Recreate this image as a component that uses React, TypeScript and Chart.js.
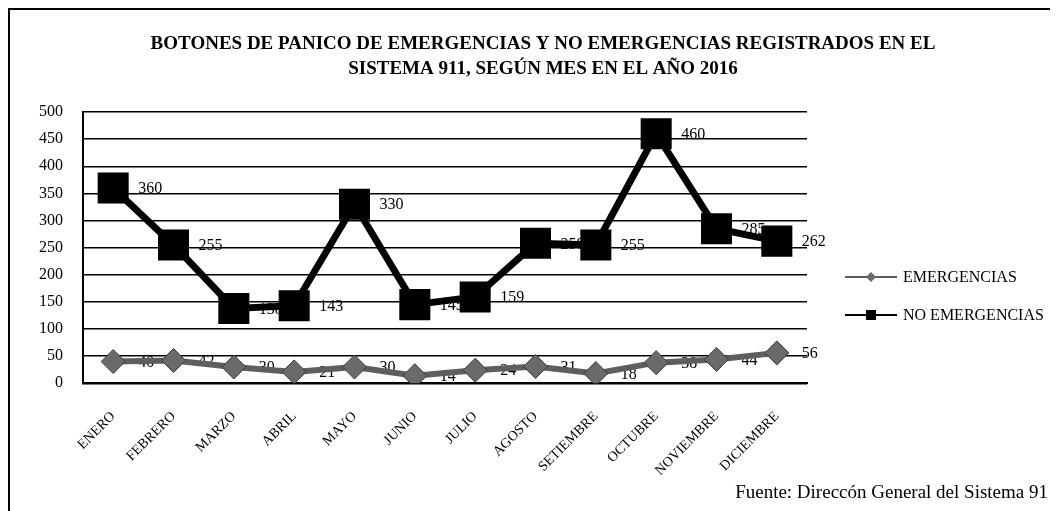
import React, { useEffect, useRef } from "react";
import { Chart, registerables } from "chart.js";

Chart.register(...registerables);

const months = ["ENERO", "FEBRERO", "MARZO", "ABRIL", "MAYO", "JUNIO", "JULIO", "AGOSTO", "SETIEMBRE", "OCTUBRE", "NOVIEMBRE", "DICIEMBRE"];
const emergencias = [40, 42, 30, 21, 30, 14, 24, 31, 18, 38, 44, 56];
const noEmergencias = [360, 255, 138, 143, 330, 145, 159, 258, 255, 460, 285, 262];
const titleLines = [
  "BOTONES DE PANICO DE EMERGENCIAS Y NO EMERGENCIAS REGISTRADOS EN EL",
  "SISTEMA 911, SEGÚN MES EN EL AÑO 2016",
];
const sourceText = "Fuente: Direccón General del Sistema 91";
const yTicks = [0, 50, 100, 150, 200, 250, 300, 350, 400, 450, 500];

const SERIF = "'Liberation Serif', 'DejaVu Serif', serif";

const labelsPlugin = {
  id: "valueLabels",
  beforeDatasetsDraw(chart: any) {
    const ctx = chart.ctx;
    ctx.save();
    ctx.font = `16px ${SERIF}`;
    ctx.fillStyle = "#000";
    ctx.textAlign = "left";
    ctx.textBaseline = "middle";
    chart.data.datasets.forEach((ds: any, i: number) => {
      const meta = chart.getDatasetMeta(i);
      meta.data.forEach((pt: any, j: number) => {
        ctx.fillText(String(ds.data[j]), pt.x + 25, pt.y + 1);
      });
    });
    ctx.restore();
  },
  afterDraw(chart: any) {
    const ctx = chart.ctx;
    const area = chart.chartArea;
    ctx.save();
    // title
    ctx.font = `bold 19px ${SERIF}`;
    ctx.fillStyle = "#000";
    ctx.textAlign = "center";
    ctx.textBaseline = "middle";
    const cx = 533;
    ctx.fillText(titleLines[0], cx, 34);
    ctx.fillText(titleLines[1], cx, 59);

    // legend
    const lx = area.right + 38;
    const items = [
      { y: 267, ds: chart.data.datasets[0], text: "EMERGENCIAS" },
      { y: 305, ds: chart.data.datasets[1], text: "NO EMERGENCIAS" },
    ];
    items.forEach((it) => {
      ctx.strokeStyle = it.ds.borderColor;
      ctx.lineWidth = 2;
      ctx.beginPath();
      ctx.moveTo(lx, it.y);
      ctx.lineTo(lx + 52, it.y);
      ctx.stroke();
      ctx.fillStyle = it.ds.pointBackgroundColor;
      const mx = lx + 26;
      if (it.ds.pointStyle === "rect") {
        ctx.fillRect(mx - 5, it.y - 5, 10, 10);
      } else {
        ctx.beginPath();
        ctx.moveTo(mx, it.y - 5);
        ctx.lineTo(mx + 5, it.y);
        ctx.lineTo(mx, it.y + 5);
        ctx.lineTo(mx - 5, it.y);
        ctx.closePath();
        ctx.fill();
      }
      ctx.fillStyle = "#000";
      ctx.font = `16px ${SERIF}`;
      ctx.textAlign = "left";
      ctx.fillText(it.text, lx + 58, it.y + 1);
    });

    // source
    ctx.font = `19px ${SERIF}`;
    ctx.textAlign = "right";
    ctx.fillText(sourceText, 1038, 483);
    ctx.restore();
  },
};

export default function App() {
  const ref = useRef<HTMLCanvasElement>(null);
  useEffect(() => {
    const chart = new Chart(ref.current as HTMLCanvasElement, {
      type: "line",
      data: {
        labels: months,
        datasets: [
          {
            label: "EMERGENCIAS",
            data: emergencias,
            borderColor: "#5e5e5e",
            backgroundColor: "#6a6a6a",
            pointBackgroundColor: "#6a6a6a",
            pointBorderColor: "#3a3a3a",
            pointBorderWidth: 1,
            borderWidth: 6,
            pointStyle: "rectRot",
            pointRadius: 12,
            tension: 0,
          },
          {
            label: "NO EMERGENCIAS",
            data: noEmergencias,
            borderColor: "#000",
            backgroundColor: "#000",
            pointBackgroundColor: "#000",
            pointBorderColor: "#000",
            borderWidth: 7,
            pointStyle: "rect",
            pointRadius: 17,
            tension: 0,
          },
        ],
      },
      options: {
        animation: false,
        responsive: false,
        layout: { padding: { top: 102, right: 251, bottom: 7, left: 9 } },
        plugins: {
          legend: { display: false },
          title: { display: false },
          tooltip: { enabled: false },
        },
        scales: {
          x: {
            offset: true,
            grid: { display: false, drawTicks: false },
            border: { display: true, color: "#000", width: 2 },
            ticks: {
              color: "#000",
              font: { family: SERIF, size: 14 },
              minRotation: 45,
              maxRotation: 45,
              padding: 25,
            },
          },
          y: {
            min: 0,
            max: 500,
            afterBuildTicks: (axis: any) => {
              axis.ticks = yTicks.map((v) => ({ value: v }));
            },
            grid: { color: "#000", lineWidth: 1.5, drawTicks: false },
            border: { display: true, color: "#000", width: 2 },
            ticks: {
              color: "#000",
              font: { family: SERIF, size: 16 },
              padding: 20,
            },
          },
        },
      },
      plugins: [labelsPlugin],
    });
    return () => chart.destroy();
  }, []);
  return (
    <div style={{ width: 1048, height: 501, borderLeft: "2px solid #000", borderTop: "2px solid #000", overflow: "hidden" }}>
      <canvas ref={ref} width={1048} height={501} style={{ display: "block" }} />
    </div>
  );
}
